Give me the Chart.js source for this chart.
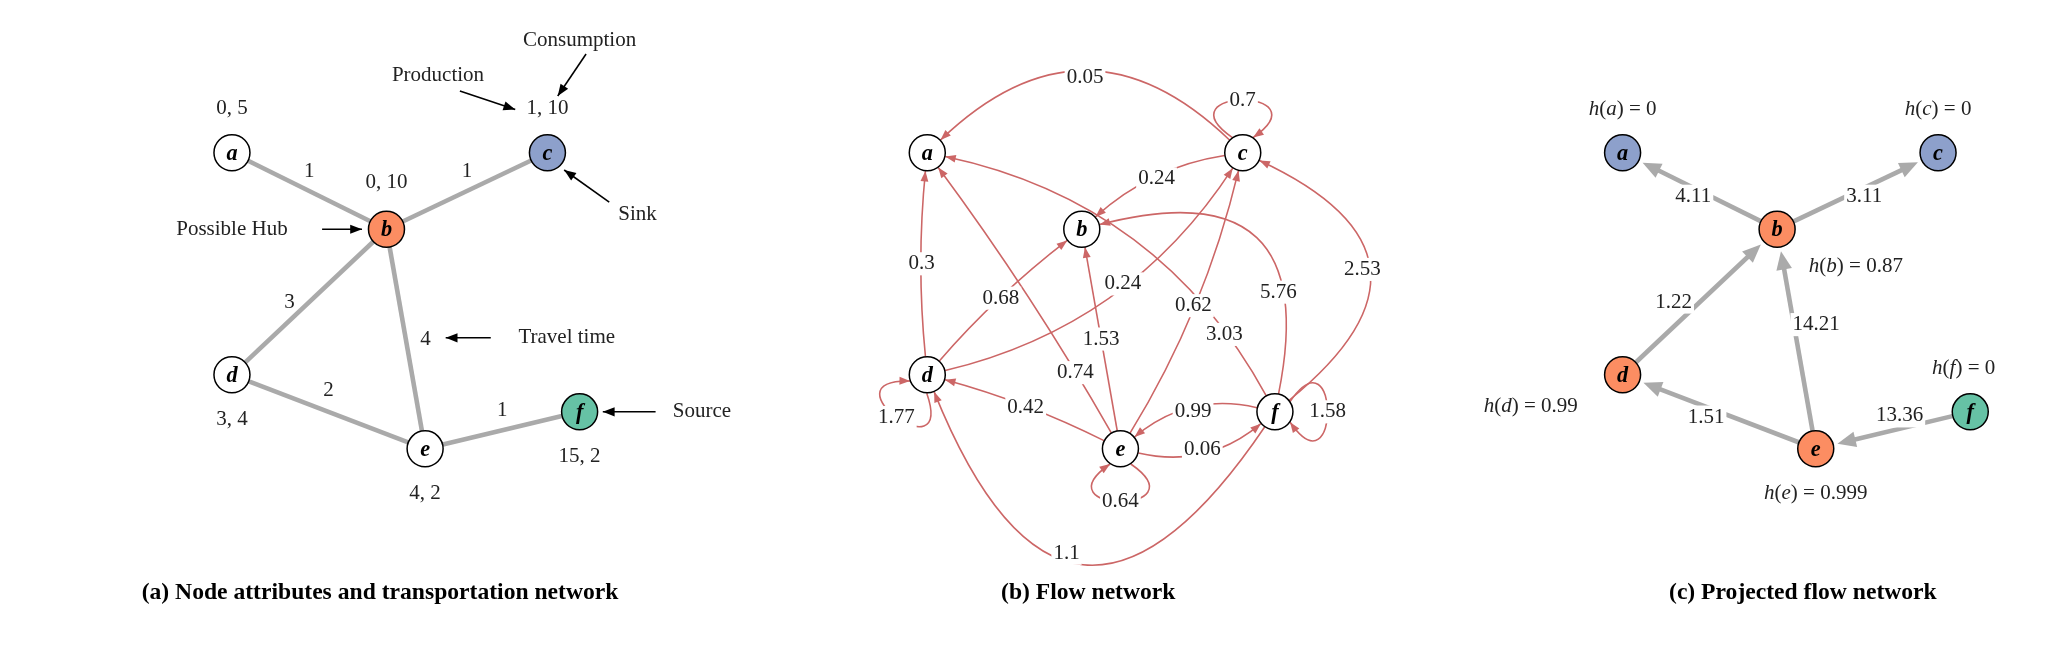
<!DOCTYPE html>
<html><head><meta charset="utf-8">
<script src="https://cdn.jsdelivr.net/npm/chart.js@4.4.1/dist/chart.umd.min.js"></script>
<style>html,body{margin:0;padding:0;background:#fff}canvas{display:block}</style>
</head><body>
<canvas id="c" width="2058" height="646"></canvas>
<script>
// ---- data ----
const nodeNames = ['a','b','c','d','e','f'];
const attrA = ['0, 5','0, 10','1, 10','3, 4','4, 2','15, 2'];
const travelFrom = ['a','b','b','b','d','e'];
const travelTo   = ['b','c','d','e','e','f'];
const travelTime = [1,1,3,4,2,1];
const flowFrom = ['c','c','d','d','d','e','e','e','f','f','f','e','f','e','f','c','d','e','f'];
const flowTo   = ['a','b','a','b','c','a','b','c','a','b','c','d','e','f','d','c','d','e','f'];
const flowVal  = ['0.05','0.24','0.3','0.68','0.24','0.74','1.53','0.62','3.03','5.76','2.53','0.42','0.99','0.06','1.1','0.7','1.77','0.64','1.58'];
const projFrom = ['b','b','d','e','e','f'];
const projTo   = ['a','c','b','b','d','e'];
const projVal  = ['4.11','3.11','1.22','14.21','1.51','13.36'];
const hNames = ['a','b','c','d','e','f'];
const hVals  = ['0','0.87','0','0.99','0.999','0'];
const captions = ['(a) Node attributes and transportation network','(b) Flow network','(c) Projected flow network'];

// ---- layout (not data) ----
const base = {a:[165,108],b:[285,170],c:[410,108],d:[165,288],e:[315,348],f:[435,318]};
const panelX = [0,540,1080];
const colA = {a:'#fff',b:'#fc8d62',c:'#8da0cb',d:'#fff',e:'#fff',f:'#66c2a5'};
const colB = {a:'#fff',b:'#fff',c:'#fff',d:'#fff',e:'#fff',f:'#fff'};
const colC = {a:'#8da0cb',b:'#fc8d62',c:'#8da0cb',d:'#fc8d62',e:'#fc8d62',f:'#66c2a5'};
const pos = (p,n)=>({x:base[n][0]+panelX[p], y:base[n][1]});
const travelLabelOff = [[0,-15],[0,-15],[-15,0],[15,0],[0,-16],[0,-15]];
const flowBend = [0.48,0.15,-0.05,-0.05,0.2,0.03,0,0.08,0.23,0.8,0.8,0.05,0.25,0.25,-0.94];
const flowT    = [0.5,0.5,0.5,0.5,0.55,0.25,0.5,0.5,0.2,0.3,0.5,0.5,0.5,0.5,0.55];
const loopAng  = {c:-Math.PI/2,d:Math.PI*0.7,e:Math.PI/2,f:0};
const projLabelOff = [[-5,4],[5,4],[-20,0],[15,-11],[-10,4],[5,-11]];
const hOff = {a:[0,-33],b:[60,28],c:[0,-33],d:[-70,24],e:[0,34],f:[-5,-33]};
const annotations = [
  {t:'Production', tx:325, ty:45, x1:342,y1:58, x2:385,y2:73},
  {t:'Consumption', tx:435, ty:17, x1:440,y1:28, x2:418,y2:62},
  {t:'Sink', tx:480, ty:158, x1:458,y1:148, x2:423,y2:122},
  {t:'Possible Hub', tx:165, ty:170, x1:235,y1:170, x2:266,y2:170},
  {t:'Travel time', tx:425, ty:258, x1:366,y1:258, x2:331,y2:258},
  {t:'Source', tx:530, ty:318, x1:494,y1:318, x2:453,y2:318}
];

const nodeData=[], nodeColors=[];
[colA,colB,colC].forEach((cm,p)=>nodeNames.forEach(n=>{const q=pos(p,n);nodeData.push({x:q.x,y:q.y,n});nodeColors.push(cm[n]);}));

const SERIF='"Liberation Serif","DejaVu Serif",serif';
function mathText(ctx,str,x,y,size,align){
  const parts=[...str];
  const fontFor=ch=>(/[a-z]/.test(ch)?'italic ':'')+size+'px '+SERIF;
  let w=0; parts.forEach(ch=>{ctx.font=fontFor(ch);w+=ctx.measureText(ch).width;});
  let cx = align==='left'?x:x-w/2;
  ctx.textBaseline='middle';ctx.textAlign='left';
  parts.forEach(ch=>{ctx.font=fontFor(ch);ctx.fillText(ch,cx,y);cx+=ctx.measureText(ch).width;});
  return w;
}
function head(ctx,tx,ty,ang,len,hw,col){
  ctx.save();ctx.fillStyle=col;ctx.beginPath();
  ctx.moveTo(tx,ty);
  ctx.lineTo(tx-len*Math.cos(ang)+hw*Math.sin(ang), ty-len*Math.sin(ang)-hw*Math.cos(ang));
  ctx.lineTo(tx-len*Math.cos(ang)-hw*Math.sin(ang), ty-len*Math.sin(ang)+hw*Math.cos(ang));
  ctx.closePath();ctx.fill();ctx.restore();
}
function boxLabel(ctx,txt,x,y,size){
  ctx.font=size+'px '+SERIF;const w=ctx.measureText(txt).width;
  ctx.fillStyle='#fff';ctx.fillRect(x-w/2-2,y-size*0.55,w+4,size*1.1);
  ctx.fillStyle='#222';ctx.textAlign='center';ctx.textBaseline='middle';ctx.fillText(txt,x,y);
}

const netPlugin={id:'net',
 beforeDatasetsDraw(chart){
  const ctx=chart.ctx,sx=chart.scales.x,sy=chart.scales.y;
  const S=chart.width/1568, r=14*S, fs=16*S;
  const P=(p,n)=>{const q=pos(p,n);return [sx.getPixelForValue(q.x),sy.getPixelForValue(q.y)];};
  ctx.save();
  // panel a
  ctx.strokeStyle='#aaaaaa';ctx.lineWidth=3.5*S;
  travelFrom.forEach((f,i)=>{const A=P(0,f),B=P(0,travelTo[i]);ctx.beginPath();ctx.moveTo(...A);ctx.lineTo(...B);ctx.stroke();});
  ctx.fillStyle='#222';
  travelFrom.forEach((f,i)=>{const A=P(0,f),B=P(0,travelTo[i]);mathText(ctx,String(travelTime[i]),(A[0]+B[0])/2+travelLabelOff[i][0]*S,(A[1]+B[1])/2+travelLabelOff[i][1]*S,fs,'center');});
  nodeNames.forEach((n,i)=>{const A=P(0,n);const dy=(n==='b')?-36:(n==='a'||n==='c')?-34:34;mathText(ctx,attrA[i],A[0],A[1]+dy*S,fs,'center');});
  annotations.forEach(a=>{
    const x1=sx.getPixelForValue(a.x1),y1=sy.getPixelForValue(a.y1),x2=sx.getPixelForValue(a.x2),y2=sy.getPixelForValue(a.y2);
    ctx.strokeStyle='#000';ctx.lineWidth=1.2*S;ctx.beginPath();ctx.moveTo(x1,y1);ctx.lineTo(x2,y2);ctx.stroke();
    head(ctx,x2,y2,Math.atan2(y2-y1,x2-x1),9*S,3.5*S,'#000');
    ctx.fillStyle='#222';ctx.font=fs+'px '+SERIF;ctx.textAlign='center';ctx.textBaseline='middle';
    ctx.fillText(a.t,sx.getPixelForValue(a.tx),sy.getPixelForValue(a.ty));
  });
  // panel b
  const red='#cc6666';ctx.strokeStyle=red;ctx.lineWidth=1.2*S;
  const labels=[];
  flowFrom.forEach((f,i)=>{
    const t=flowTo[i];
    if(f===t){
      const [cx,cy]=P(1,f),a=loopAng[f],k=80*S,sp=0.9;
      const s=[cx+r*Math.cos(a-0.6),cy+r*Math.sin(a-0.6)],e=[cx+r*Math.cos(a+0.6),cy+r*Math.sin(a+0.6)];
      const c1=[cx+k*Math.cos(a-sp),cy+k*Math.sin(a-sp)],c2=[cx+k*Math.cos(a+sp),cy+k*Math.sin(a+sp)];
      ctx.beginPath();ctx.moveTo(...s);ctx.bezierCurveTo(...c1,...c2,...e);ctx.stroke();
      head(ctx,e[0],e[1],Math.atan2(e[1]-c2[1],e[0]-c2[0]),8*S,3*S,red);
      const ap=0.125*(s[0]+e[0])+0.375*(c1[0]+c2[0]),aq=0.125*(s[1]+e[1])+0.375*(c1[1]+c2[1]);
      labels.push([flowVal[i],ap,aq]);
      return;
    }
    const A=P(1,f),B=P(1,t),dx=B[0]-A[0],dy=B[1]-A[1],b=flowBend[i];
    const C=[(A[0]+B[0])/2-b*dy,(A[1]+B[1])/2+b*dx];
    const u=(p,q)=>{const L=Math.hypot(q[0]-p[0],q[1]-p[1]);return [(q[0]-p[0])/L,(q[1]-p[1])/L];};
    const us=u(A,C),ue=u(B,C);
    const s=[A[0]+us[0]*r,A[1]+us[1]*r],e=[B[0]+ue[0]*r,B[1]+ue[1]*r];
    ctx.beginPath();ctx.moveTo(...s);ctx.quadraticCurveTo(...C,...e);ctx.stroke();
    head(ctx,e[0],e[1],Math.atan2(-ue[1],-ue[0]),8*S,3*S,red);
    const T=flowT[i],m0=(1-T)*(1-T),m1=2*T*(1-T),m2=T*T;
    labels.push([flowVal[i],m0*A[0]+m1*C[0]+m2*B[0],m0*A[1]+m1*C[1]+m2*B[1]]);
  });
  labels.forEach(l=>boxLabel(ctx,l[0],l[1],l[2],fs));
  // panel c
  const gray='#aaaaaa';ctx.strokeStyle=gray;ctx.lineWidth=3.5*S;
  projFrom.forEach((f,i)=>{
    const A=P(2,f),B=P(2,projTo[i]),L=Math.hypot(B[0]-A[0],B[1]-A[1]),ux=(B[0]-A[0])/L,uy=(B[1]-A[1])/L;
    const s=[A[0]+ux*r,A[1]+uy*r],e=[B[0]-ux*(r+3*S),B[1]-uy*(r+3*S)];
    ctx.beginPath();ctx.moveTo(...s);ctx.lineTo(e[0]-ux*8*S,e[1]-uy*8*S);ctx.stroke();
    head(ctx,e[0],e[1],Math.atan2(uy,ux),14*S,6*S,gray);
  });
  projFrom.forEach((f,i)=>{const A=P(2,f),B=P(2,projTo[i]);boxLabel(ctx,projVal[i],(A[0]+B[0])/2+projLabelOff[i][0]*S,(A[1]+B[1])/2+projLabelOff[i][1]*S,fs);});
  ctx.fillStyle='#222';
  hNames.forEach((n,i)=>{const A=P(2,n);mathText(ctx,'h('+n+') = '+hVals[i],A[0]+hOff[n][0]*S,A[1]+hOff[n][1]*S,fs,'center');});
  ctx.restore();
 },
 afterDatasetsDraw(chart){
  const ctx=chart.ctx,S=chart.width/1568,meta=chart.getDatasetMeta(0);
  ctx.save();ctx.fillStyle='#000';ctx.textAlign='center';ctx.textBaseline='middle';
  ctx.font='italic bold '+(17*S)+'px '+SERIF;
  meta.data.forEach((pt,i)=>ctx.fillText(nodeData[i].n,pt.x,pt.y+1));
  ctx.font='bold '+(18*S)+'px '+SERIF;
  const cx=[280,830,1385];
  captions.forEach((c,i)=>ctx.fillText(c,chart.scales.x.getPixelForValue(cx[i]),chart.scales.y.getPixelForValue(465)));
  ctx.restore();
 }
};

new Chart(document.getElementById('c'),{
  type:'scatter',
  data:{datasets:[{data:nodeData,pointRadius:18,pointHoverRadius:18,backgroundColor:nodeColors,borderColor:'#000',borderWidth:1.5}]},
  options:{responsive:false,animation:false,devicePixelRatio:1,layout:{padding:0},
    plugins:{legend:{display:false},tooltip:{enabled:false}},
    scales:{x:{display:false,min:0,max:1568},y:{display:false,min:0,max:492,reverse:true}}},
  plugins:[netPlugin]
});
</script></body></html>
